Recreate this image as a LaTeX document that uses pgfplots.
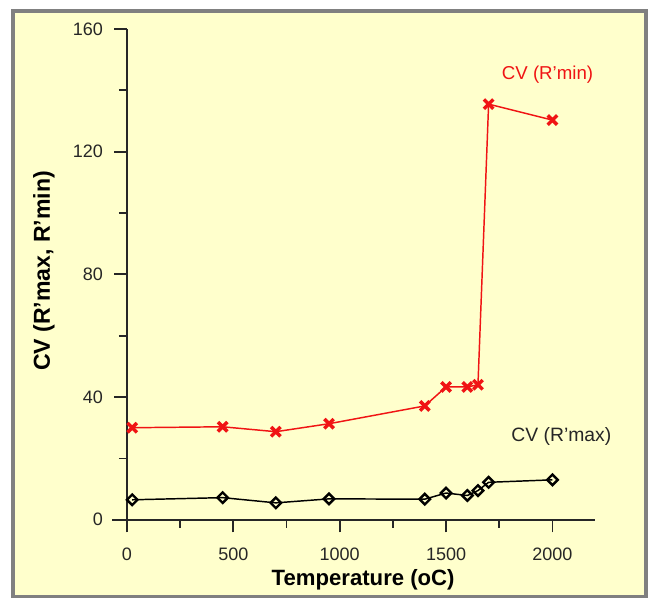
\documentclass[border=0pt]{standalone}
\usepackage{pgfplots}
\pgfplotsset{compat=1.18}
\usepackage{fontspec}
\setmainfont{Liberation Sans}
\definecolor{cream}{RGB}{255,255,204}
\definecolor{framegray}{RGB}{128,128,128}
\definecolor{cvred}{RGB}{240,20,20}

\begin{document}
\begin{tikzpicture}
% page frame: 651 x 598 px at 0.75pt per px
\useasboundingbox (0,0) rectangle (488.25pt,448.5pt);
\fill[white] (0,0) rectangle (488.25pt,448.5pt);
\draw[framegray, line width=3pt, fill=cream] (9.75pt,0.75pt) rectangle (484.5pt,440.6pt);

\begin{axis}[
  at={(84pt,49.5pt)}, anchor=south west,
  scale only axis, width=362.25pt, height=377.25pt,
  xmin=-70, xmax=2200, ymin=-4, ymax=160,
  axis lines=middle,
  axis line style={-, line width=1.2pt, black!85},
  xtick={0,500,1000,1500,2000},
  ytick={0,40,80,120,160},
  minor xtick={250,750,1250,1750},
  minor ytick={20,60,100,140},
  tick align=outside,
  major tick length=9.5pt, minor tick length=6pt,
  tick style={line width=1.3pt, black!85},
  hide obscured x ticks=false, hide obscured y ticks=false,
  scaled ticks=false,
  /pgf/number format/1000 sep={},
  /pgf/number format/assume math mode=true,
  tick label style={font=\fontsize{13.5}{16}\selectfont, black!85},
  xticklabel style={yshift=-8pt},
  yticklabel style={xshift=-5pt},
  xlabel={Temperature (oC)},
  ylabel={CV (R'max, R'min)},
  every axis x label/.style={at={(axis description cs:0.52,0)}, anchor=center, yshift=-36pt, font=\fontsize{16.6}{18}\selectfont\bfseries},
  every axis y label/.style={at={(axis description cs:0,0.519)}, xshift=-51pt, anchor=center, rotate=90, font=\fontsize{17.3}{19}\selectfont\bfseries},
  clip=false,
]
% CV (R'min)
\addplot[cvred, line width=1.1pt, mark=x, mark size=5pt, mark options={line width=2.6pt}]
  coordinates {(25,30.0)(450,30.3)(700,28.7)(950,31.3)(1400,37.1)(1500,43.3)(1600,43.3)(1650,44.0)(1700,135.5)(2000,130.3)};
% CV (R'max)
\addplot[black, line width=1.1pt, mark=square, mark size=2.8pt, mark options={rotate=45, line width=1.8pt, fill=cream}]
  coordinates {(25,6.5)(450,7.2)(700,5.5)(950,6.8)(1400,6.7)(1500,8.7)(1600,7.9)(1650,9.5)(1700,12.2)(2000,13.0)};
\node[cvred, font=\fontsize{14}{16}\selectfont] at (axis cs:1977,145) {CV (R'min)};
\node[black!85, font=\fontsize{14.5}{16}\selectfont] at (axis cs:2042,27) {CV (R'max)};
\end{axis}
\end{tikzpicture}
\end{document}
